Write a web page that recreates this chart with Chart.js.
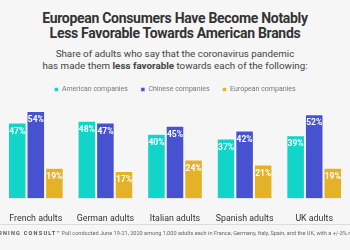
<!DOCTYPE html>
<html>
<head>
<meta charset="utf-8">
<script src="https://cdn.jsdelivr.net/npm/chart.js@4/dist/chart.umd.min.js"></script>
<style>
  html, body { margin: 0; padding: 0; }
  body { width: 350px; height: 250px; background: #f6f6f6; position: relative; overflow: hidden; font-family: Roboto, sans-serif; }
  #title { position: absolute; top: 11px; left: 0; width: 350px; text-align: center; font-weight: bold; font-size: 14px; line-height: 15px; color: #333; letter-spacing: -0.3px; }
  #subtitle { position: absolute; top: 48px; left: 0; width: 350px; text-align: center; font-size: 9.8px; line-height: 11.5px; color: #444; }
  #chartBox { position: absolute; top: 73px; left: 0; width: 350px; height: 160px; }
  #rule { position: absolute; top: 224px; left: 0; width: 350px; height: 1px; background: #dcdcdc; }
  #footer { position: absolute; top: 230px; left: -13px; white-space: nowrap; font-size: 5.6px; color: #666; }
  #footer b { letter-spacing: 1.2px; color: #555; }
</style>
</head>
<body>
<div id="title">European Consumers Have Become Notably<br>Less Favorable Towards American Brands</div>
<div id="subtitle">Share of adults who say that the coronavirus pandemic<br>has made them <b>less favorable</b> towards each of the following:</div>
<div id="chartBox"><canvas id="chartFavor"></canvas></div>
<div id="rule"></div>
<div id="footer"><b>MORNING CONSULT</b>&#8482; Poll conducted June 19-21, 2020 among 1,000 adults each in France, Germany, Italy, Spain, and the UK, with a +/-3% margin of error.</div>
<script>
// Categories and series
const categories = ['French adults', 'German adults', 'Italian adults', 'Spanish adults', 'UK adults'];
const american = [47, 48, 40, 37, 39];
const chinese = [54, 47, 45, 42, 52];
const european = [19, 17, 24, 21, 19];

const seriesNames = ['American companies', 'Chinese companies', 'European companies'];
const seriesColors = ['#10d5c8', '#4752d0', '#e3b226'];

// Custom plugin to write the percentages inside the bars
const barLabels = {
    id: 'barLabels',
    afterDatasetsDraw(chart) {
        const { ctx } = chart;
        ctx.save();
        ctx.font = 'bold 8.5px Roboto';
        ctx.fillStyle = 'white';
        ctx.textAlign = 'center';
        ctx.textBaseline = 'middle';
        chart.data.datasets.forEach((ds, i) => {
            chart.getDatasetMeta(i).data.forEach((bar, index) => {
                ctx.fillText(ds.data[index] + '%', bar.x, bar.y + 9);
            });
        });
        ctx.restore();
    }
};

const graphArea = document.getElementById('chartFavor');

new Chart(graphArea, {
    type: 'bar',
    data: {
        labels: categories,
        datasets: [american, chinese, european].map((values, i) => ({
            label: seriesNames[i],
            data: values,
            backgroundColor: seriesColors[i],
            borderColor: 'rgba(255,255,255,0.45)',
            borderWidth: 1,
            categoryPercentage: 0.8,
            barPercentage: 1,
        }))
    },
    options: {
        responsive: true,
        maintainAspectRatio: false,
        animation: false,
        layout: { padding: { left: 1, right: 1, bottom: 2 } },
        plugins: {
            tooltip: { enabled: false },
            legend: {
                display: true,
                labels: {
                    color: '#777',
                    boxWidth: 4,
                    boxHeight: 4,
                    padding: 13,
                    font: { family: 'Roboto', size: 7 },
                },
            },
        },
        scales: {
            x: {
                grid: { display: false },
                border: { display: false },
                ticks: {
                    color: '#333',
                    padding: 7,
                    font: { family: 'Roboto', size: 8.8 },
                }
            },
            y: {
                display: false,
                min: 0,
                max: 59,
            }
        }
    },
    plugins: [barLabels]
});
</script>
</body>
</html>
